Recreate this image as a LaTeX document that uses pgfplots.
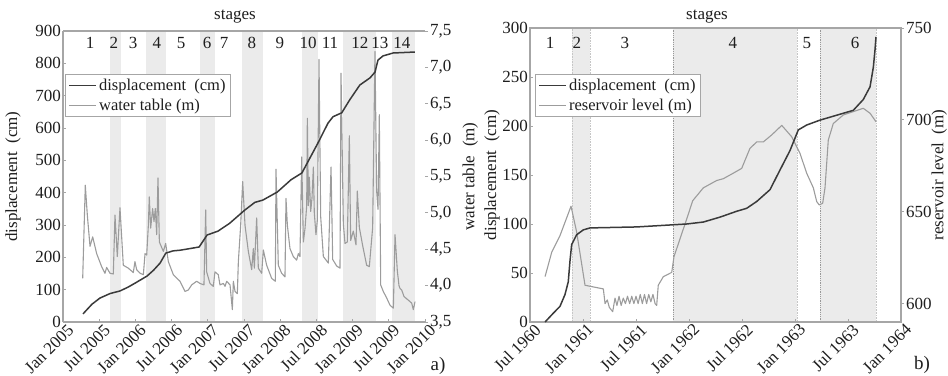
\documentclass[border=0pt]{standalone}
\usepackage{pgfplots}
\usepackage{pgfplotstable}
\pgfplotsset{compat=1.18}
\usepackage{fontspec}
\setmainfont{Liberation Serif}
\definecolor{darkline}{HTML}{3A3A3A}
\definecolor{lightline}{HTML}{9C9C9C}
\definecolor{frame}{HTML}{A6A6A6}
\definecolor{band}{HTML}{EBEBEB}
\definecolor{txt}{HTML}{1E1E1E}

% ---------- left panel data ----------
\pgfplotstableread{
x y
2005.276 25
2005.40 55
2005.51 74
2005.65 88
2005.787 96
2005.90 108
2005.994 120
2006.16 142
2006.25 160
2006.34 182
2006.42 213
2006.52 220
2006.616 222
2006.75 227
2006.88 232
2006.99 269
2007.14 281
2007.30 305
2007.51 346
2007.65 370
2007.76 377
2007.96 402
2008.04 418
2008.15 440
2008.30 461
2008.52 553
2008.66 615
2008.73 635
2008.85 647
2008.96 687
2009.10 733
2009.24 755
2009.31 773
2009.35 810
2009.42 823
2009.56 832
2009.86 835
}\dispA

\pgfplotstableread{
x y
2005.272 4.10
2005.308 5.38
2005.336 4.97
2005.373 4.54
2005.410 4.67
2005.465 4.44
2005.534 4.26
2005.580 4.17
2005.603 4.25
2005.649 4.17
2005.695 4.16
2005.718 4.97
2005.750 4.40
2005.787 5.07
2005.833 4.28
2005.902 4.24
2005.971 4.18
2005.994 4.33
2006.017 4.22
2006.064 4.17
2006.110 4.15
2006.133 4.44
2006.156 4.42
2006.179 4.83
2006.192 5.22
2006.211 4.79
2006.238 5.06
2006.257 4.88
2006.275 5.06
2006.294 4.70
2006.312 5.48
2006.331 4.60
2006.386 4.47
2006.418 4.58
2006.455 4.33
2006.524 4.15
2006.616 4.06
2006.685 3.92
2006.731 3.94
2006.777 4.01
2006.846 4.06
2006.892 4.03
2006.947 4.01
2006.971 5.04
2006.984 4.19
2007.030 4.03
2007.076 3.99
2007.099 4.19
2007.145 4.15
2007.168 4.01
2007.215 4.03
2007.238 3.99
2007.261 4.06
2007.307 4.01
2007.339 3.67
2007.353 4.06
2007.376 3.92
2007.408 3.89
2007.422 4.33
2007.454 4.83
2007.482 5.43
2007.514 4.83
2007.560 4.47
2007.606 4.22
2007.629 4.51
2007.643 4.24
2007.675 4.93
2007.698 4.24
2007.744 4.17
2007.767 4.49
2007.813 4.28
2007.882 4.10
2007.933 4.06
2007.942 5.60
2007.974 4.28
2008.020 4.17
2008.066 4.12
2008.080 5.20
2008.099 4.83
2008.135 4.51
2008.181 4.40
2008.227 4.35
2008.250 4.44
2008.273 4.40
2008.297 5.77
2008.320 4.60
2008.343 4.79
2008.366 5.10
2008.375 6.30
2008.389 5.10
2008.402 5.49
2008.421 5.02
2008.439 5.20
2008.458 5.63
2008.471 5.00
2008.494 4.70
2008.513 4.90
2008.536 7.11
2008.559 4.95
2008.596 4.40
2008.665 4.31
2008.702 5.63
2008.725 4.36
2008.780 4.27
2008.826 4.24
2008.840 6.92
2008.872 4.85
2008.895 4.58
2008.927 4.60
2008.955 6.06
2008.973 4.62
2009.010 4.75
2009.047 4.56
2009.065 5.30
2009.093 4.80
2009.139 4.55
2009.194 4.28
2009.231 4.26
2009.277 4.80
2009.309 7.22
2009.332 5.30
2009.351 5.05
2009.369 6.35
2009.388 4.01
2009.424 3.92
2009.471 3.83
2009.517 3.73
2009.563 3.69
2009.586 4.70
2009.618 4.20
2009.641 4.00
2009.655 3.96
2009.678 3.94
2009.710 3.85
2009.770 3.80
2009.816 3.76
2009.839 3.67
2009.862 3.78
}\waterA

% ---------- right panel data ----------
\pgfplotstableread{
x y
1960.642 0
1960.72 9
1960.783 16
1960.83 28
1960.861 41
1960.877 62
1960.893 79
1960.94 89
1961.003 94
1961.066 96
1961.507 97
1961.978 100
1962.135 102
1962.292 107
1962.45 113
1962.544 116
1962.639 123
1962.764 135
1962.858 155
1962.953 175
1963.031 196
1963.11 201
1963.236 206
1963.393 211
1963.55 216
1963.644 227
1963.708 240
1963.739 260
1963.755 278
1963.764 291
}\dispB

\pgfplotstableread{
x y
1960.642 614.7
1960.705 628
1960.783 637
1960.887 653
1960.94 639
1961.019 610
1961.192 608
1961.208 600
1961.229 602
1961.248 598
1961.28 595.6
1961.302 603
1961.32 599
1961.34 604
1961.36 599
1961.38 603
1961.40 600
1961.42 604
1961.44 600
1961.46 604
1961.48 600
1961.50 604
1961.52 600
1961.54 605
1961.56 600
1961.58 605
1961.60 600
1961.62 605
1961.64 601
1961.66 605
1961.68 600
1961.695 599
1961.71 610
1961.758 614.7
1961.837 617
1961.858 625.5
1961.978 646
1962.035 656
1962.135 663
1962.261 667
1962.324 668
1962.418 671
1962.497 673.6
1962.575 684.5
1962.639 688
1962.701 688
1962.78 691.8
1962.875 697
1962.969 690.8
1963.047 681.8
1963.11 671
1963.173 663
1963.205 655.5
1963.229 653.7
1963.261 654.6
1963.283 663
1963.314 689
1963.361 698
1963.456 702.7
1963.55 704.5
1963.644 706.3
1963.708 703.6
1963.764 699
}\resB

\pgfplotsset{
  myaxis/.style={
    scale only axis,
    clip mode=individual,
    /pgf/number format/assume math mode=true,
    major tick length=3pt,
    every tick/.style={frame, line width=0.8pt},
    legend image code/.code={\draw[##1] (0pt,0pt) -- (27pt,0pt);},
    tick label style={font=\fontsize{17}{20}\selectfont},
    label style={font=\fontsize{17}{20}\selectfont},
  },
}

\begin{document}
\fontsize{17}{20}\selectfont
\color{txt}
\begin{tikzpicture}[font=\fontsize{17}{20}\selectfont]
\useasboundingbox (0pt,0pt) rectangle (948pt,375pt);

% ================= LEFT PANEL =================
% secondary axis: water table
\begin{axis}[myaxis,
  at={(63pt,53pt)}, anchor=south west, width=362pt, height=291pt,
  xmin=2005, xmax=2010, ymin=3.5, ymax=7.5,
  axis x line=none,
  axis y line*=right,
  y axis line style={draw=none},
  tick align=outside,
  ytick={3.5,4,4.5,5,5.5,6,6.5,7,7.5},
  yticklabels={{3,5},{4,0},{4,5},{5,0},{5,5},{6,0},{6,5},{7,0},{7,5}},
  yticklabel style={inner sep=2pt},
  every axis y label/.style={at={(axis description cs:1.125,0.5)}, rotate=90, anchor=center},
  ylabel={water table\ \ (m)},
]
\addplot[fill=band, draw=none] coordinates {(2005.65,3.5) (2005.65,7.5) (2005.80,7.5) (2005.80,3.5)} -- cycle;
\addplot[fill=band, draw=none] coordinates {(2006.146,3.5) (2006.146,7.5) (2006.42,7.5) (2006.42,3.5)} -- cycle;
\addplot[fill=band, draw=none] coordinates {(2006.89,3.5) (2006.89,7.5) (2007.10,7.5) (2007.10,3.5)} -- cycle;
\addplot[fill=band, draw=none] coordinates {(2007.47,3.5) (2007.47,7.5) (2007.76,7.5) (2007.76,3.5)} -- cycle;
\addplot[fill=band, draw=none] coordinates {(2008.30,3.5) (2008.30,7.5) (2008.52,7.5) (2008.52,3.5)} -- cycle;
\addplot[fill=band, draw=none] coordinates {(2008.87,3.5) (2008.87,7.5) (2009.32,7.5) (2009.32,3.5)} -- cycle;
\addplot[fill=band, draw=none] coordinates {(2009.54,3.5) (2009.54,7.5) (2009.86,7.5) (2009.86,3.5)} -- cycle;
\addplot[lightline, line width=1.1pt, line join=round] table {\waterA};
\end{axis}

% primary axis: displacement
\begin{axis}[myaxis,
  at={(63pt,53pt)}, anchor=south west, width=362pt, height=291pt,
  xmin=2005, xmax=2010, ymin=0, ymax=900,
  axis x line*=bottom, axis y line*=left,
  axis line style={frame, line width=1.3pt},
  tick align=inside,
  xtick={2005,2005.5,2006,2006.5,2007,2007.5,2008,2008.5,2009,2009.5,2010},
  xticklabels={Jan 2005,Jul 2005,Jan 2006,Jul 2006,Jan 2007,Jul 2007,Jan 2008,Jul 2008,Jan 2009,Jul 2009,Jan 2010},
  xticklabel style={rotate=45, anchor=north east, inner sep=1pt, xshift=3pt, yshift=-2pt},
  ytick={0,100,200,300,400,500,600,700,800,900},
  yticklabel style={inner sep=2pt},
  every axis y label/.style={at={(axis description cs:-0.138,0.5)}, rotate=90, anchor=center},
  ylabel={displacement\ \ (cm)},
  legend style={at={(axis description cs:0.0055,0.852)}, anchor=north west,
    draw=frame, line width=1.2pt, inner xsep=3pt, inner ysep=2pt, row sep=2pt,
    font=\fontsize{16.5}{19}\selectfont, cells={anchor=west}},
]
\draw[frame, line width=2pt] (rel axis cs:0,1) -- (rel axis cs:1,1);
\addplot[darkline, line width=1.5pt, line join=round] table {\dispA};
\addlegendentry{displacement\ \ (cm)}
\addlegendimage{lightline, line width=1.1pt}
\addlegendentry{water table (m)}
\node at (rel axis cs:0.475,1) [yshift=14pt] {stages};
\node at (axis cs:2005.373,900) [yshift=-12pt] {1};
\node at (axis cs:2005.704,900) [yshift=-12pt] {2};
\node at (axis cs:2005.967,900) [yshift=-12pt] {3};
\node at (axis cs:2006.298,900) [yshift=-12pt] {4};
\node at (axis cs:2006.630,900) [yshift=-12pt] {5};
\node at (axis cs:2006.989,900) [yshift=-12pt] {6};
\node at (axis cs:2007.224,900) [yshift=-12pt] {7};
\node at (axis cs:2007.610,900) [yshift=-12pt] {8};
\node at (axis cs:2007.997,900) [yshift=-12pt] {9};
\node at (axis cs:2008.384,900) [yshift=-12pt] {10};
\node at (axis cs:2008.688,900) [yshift=-12pt] {11};
\node at (axis cs:2009.100,900) [yshift=-12pt] {12};
\node at (axis cs:2009.378,900) [yshift=-12pt] {13};
\node at (axis cs:2009.682,900) [yshift=-12pt] {14};
\end{axis}

% ================= RIGHT PANEL =================
\begin{axis}[myaxis,
  at={(530pt,53pt)}, anchor=south west, width=371pt, height=294pt,
  xmin=1960.5, xmax=1964, ymin=590, ymax=750,
  axis x line=none,
  axis y line*=right,
  y axis line style={draw=none},
  tick align=outside,
  ytick={600,650,700,750},
  yticklabel style={inner sep=2pt},
  every axis y label/.style={at={(axis description cs:1.103,0.5)}, rotate=90, anchor=center},
  ylabel={reservoir level\ \ (m)},
]
\addplot[fill=band, draw=none] coordinates {(1960.896,590) (1960.896,750) (1961.066,750) (1961.066,590)} -- cycle;
\addplot[fill=band, draw=none] coordinates {(1961.85,590) (1961.85,750) (1963.02,750) (1963.02,590)} -- cycle;
\addplot[fill=band, draw=none] coordinates {(1963.236,590) (1963.236,750) (1963.764,750) (1963.764,590)} -- cycle;
\addplot[gray!45, densely dotted, line width=0.6pt] coordinates {(1960.896,590) (1960.896,750)};
\addplot[gray!45, densely dotted, line width=0.6pt] coordinates {(1961.066,590) (1961.066,750)};
\addplot[gray!45, densely dotted, line width=0.6pt] coordinates {(1963.02,590) (1963.02,750)};
\addplot[gray!45, densely dotted, line width=0.6pt] coordinates {(1963.764,590) (1963.764,750)};
\addplot[gray!80, densely dotted, line width=0.8pt] coordinates {(1961.85,590) (1961.85,750)};
\addplot[gray!80, densely dotted, line width=0.8pt] coordinates {(1963.236,590) (1963.236,750)};
\addplot[lightline, line width=1.1pt, line join=round] table {\resB};
\end{axis}

\begin{axis}[myaxis,
  at={(530pt,53pt)}, anchor=south west, width=371pt, height=294pt,
  xmin=1960.5, xmax=1964, ymin=0, ymax=300,
  axis line style={frame, line width=1.3pt},
  xtick pos=bottom, ytick pos=left,
  tick align=inside,
  xtick={1960.5,1961,1961.5,1962,1962.5,1963,1963.5,1964},
  xticklabels={Jul 1960,Jan 1961,Jul 1961,Jan 1962,Jul 1962,Jan 1963,Jul 1963,Jan 1964},
  xticklabel style={rotate=45, anchor=north east, inner sep=1pt, xshift=3pt, yshift=-2pt},
  ytick={0,50,100,150,200,250,300},
  yticklabel style={inner sep=2pt},
  every axis y label/.style={at={(axis description cs:-0.102,0.5)}, rotate=90, anchor=center},
  ylabel={displacement\ \ (cm)},
  legend style={at={(axis description cs:0.0135,0.8435)}, anchor=north west,
    draw=frame, line width=1.2pt, inner xsep=3pt, inner ysep=2pt, row sep=2pt,
    font=\fontsize{16.5}{19}\selectfont, cells={anchor=west}},
]
\addplot[darkline, line width=1.5pt, line join=round] table {\dispB};
\addlegendentry{displacement\ \ (cm)}
\addlegendimage{lightline, line width=1.1pt}
\addlegendentry{reservoir level (m)}
\node at (rel axis cs:0.477,1) [yshift=11pt] {stages};
\node at (axis cs:1960.689,300) [yshift=-15pt] {1};
\node at (axis cs:1960.943,300) [yshift=-15pt] {2};
\node at (axis cs:1961.396,300) [yshift=-15pt] {3};
\node at (axis cs:1962.415,300) [yshift=-15pt] {4};
\node at (axis cs:1963.113,300) [yshift=-15pt] {5};
\node at (axis cs:1963.566,300) [yshift=-15pt] {6};
\end{axis}

\node[font=\fontsize{19}{22}\selectfont] at (438pt,9pt) {a)};
\node[font=\fontsize{19}{22}\selectfont] at (922pt,10pt) {b)};
\end{tikzpicture}
\end{document}
